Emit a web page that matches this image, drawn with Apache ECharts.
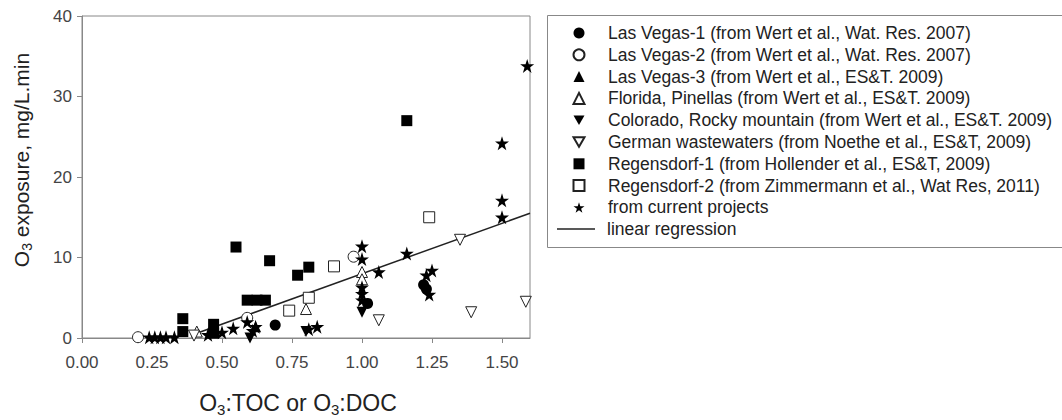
<!DOCTYPE html>
<html>
<head>
<meta charset="utf-8">
<script src="https://cdn.jsdelivr.net/npm/echarts@6/dist/echarts.min.js"></script>
<style>html,body{margin:0;padding:0;background:#fff}#c{width:1062px;height:420px}</style>
</head>
<body>
<div id="c"></div>
<script>
// ---- data ----
const xTicks = [0, 0.25, 0.5, 0.75, 1.0, 1.25, 1.5];
const yTicks = [0, 10, 20, 30, 40];

const lasVegas1 = [[0.69,1.6],[1.02,4.3],[1.22,6.6],[1.23,6.1]];
const lasVegas2 = [[0.20,0.1],[0.97,10.1],[0.59,2.5]];
const lasVegas3 = [[0.62,1.4]];
const florida = [[0.80,3.6],[1.00,8.2],[1.00,7.3],[0.41,0.8]];
const colorado = [[0.60,0.0],[0.80,0.8],[1.00,3.2]];
const german = [[0.40,0.3],[1.06,2.2],[1.35,12.2],[1.39,3.2],[1.585,4.5]];
const regensdorf1 = [[0.36,2.4],[0.36,0.8],[0.47,1.7],[0.47,0.6],[0.55,11.3],[0.59,4.7],[0.625,4.7],[0.655,4.7],[0.67,9.6],[0.77,7.8],[0.81,8.8],[1.16,27.0]];
const regensdorf2 = [[0.74,3.4],[0.81,5.0],[0.90,8.9],[1.24,15.0]];
const currentProjects = [[0.24,0.1],[0.26,0.1],[0.28,0.1],[0.30,0.1],[0.33,0.1],[0.45,0.4],[0.50,0.7],[0.54,1.2],[0.59,2.0],[0.62,1.4],[0.61,0.9],[0.81,1.1],[0.84,1.4],[1.00,11.4],[1.00,9.8],[1.00,6.3],[1.00,5.5],[1.00,4.7],[1.06,8.2],[1.16,10.5],[1.23,7.8],[1.25,8.4],[1.24,5.4],[1.50,24.2],[1.50,17.1],[1.50,15.0],[1.59,33.8]];
const regression = [[0.41,0.6],[1.6,15.5]];

const names = [
  'Las Vegas-1 (from Wert et al., Wat. Res. 2007)',
  'Las Vegas-2 (from Wert et al., Wat. Res. 2007)',
  'Las Vegas-3 (from Wert et al., ES&T. 2009)',
  'Florida, Pinellas (from Wert et al., ES&T. 2009)',
  'Colorado, Rocky mountain (from Wert et al., ES&T. 2009)',
  'German wastewaters (from Noethe et al., ES&T, 2009)',
  'Regensdorf-1 (from Hollender et al., ES&T, 2009)',
  'Regensdorf-2 (from Zimmermann et al., Wat Res, 2011)',
  'from current projects',
  'linear regression'
];

// ---- styling ----
const FONT = 'Liberation Sans, Arial, sans-serif';
const STAR = 'path://M50,0 L61.2,34.5 L97.6,34.5 L68.2,55.9 L79.4,90.5 L50,69.1 L20.6,90.5 L31.8,55.9 L2.4,34.5 L38.8,34.5 Z';
const DOWN = 'path://M0,0 L10,0 L5,8.66 Z';
const filled = {color:'#000', opacity:1};
const open = {color:'#fff', borderColor:'#222', borderWidth:1, opacity:1};

function sc(name, data, symbol, size, style) {
  return {type:'scatter', name, data, symbol, symbolSize:size, itemStyle:style, z:3};
}

const legendText = {fontSize:17.5, fontFamily:FONT, color:'#222', lineHeight:20};

const chart = echarts.init(document.getElementById('c'), null, {renderer:'svg'});
chart.setOption({
  animation:false,
  backgroundColor:'#fff',
  grid:{left:82, top:16, width:448, height:322, show:true, borderColor:'#888', borderWidth:1},
  xAxis:{
    type:'value', min:0, max:1.6,
    axisLine:{show:true, onZero:false, lineStyle:{color:'#888'}},
    axisTick:{show:true, length:5, customValues:xTicks, lineStyle:{color:'#888'}},
    axisLabel:{customValues:xTicks, margin:16, fontSize:17, fontFamily:FONT, color:'#444',
      formatter:v=>v.toFixed(2)},
    splitLine:{show:false}
  },
  yAxis:{
    type:'value', min:0, max:40, interval:10,
    axisLine:{show:true, lineStyle:{color:'#888'}},
    axisTick:{show:true, length:5, lineStyle:{color:'#888'}},
    axisLabel:{margin:10, fontSize:17, fontFamily:FONT, color:'#444'},
    splitLine:{show:false}
  },
  legend:[
    {
      orient:'vertical', left:572.5, top:23, padding:0,
      data:names.slice(0,9),
      itemGap:1.8, itemWidth:11, itemHeight:11,
      textStyle:Object.assign({padding:[0,0,0,18.5]}, legendText),
      selectedMode:false
    },
    {
      orient:'vertical', left:557, top:219, padding:0,
      data:[{name:names[9], icon:'rect'}],
      itemWidth:38, itemHeight:1.5,
      textStyle:Object.assign({padding:[0,0,0,7]}, legendText),
      selectedMode:false
    }
  ],
  graphic:[
    {type:'rect', z:-1, shape:{x:547.5, y:15.5, width:600, height:232},
      style:{fill:'#fff', stroke:'#888', lineWidth:1}},
    {type:'text', x:298, y:403, style:{
      text:'{a|O}{s|3}{a|:TOC or O}{s|3}{a|:DOC}', align:'center', verticalAlign:'middle',
      rich:{a:{fontSize:23, fontFamily:FONT, fill:'#222'}, s:{fontSize:15, fontFamily:FONT, fill:'#222', padding:[13,0,0,0]}}
    }},
    {type:'text', x:21, y:160, rotation:Math.PI/2, style:{
      text:'{a|O}{s|3}{a| exposure, mg/L.min}', align:'center', verticalAlign:'middle',
      rich:{a:{fontSize:21, fontFamily:FONT, fill:'#222'}, s:{fontSize:14, fontFamily:FONT, fill:'#222', padding:[12,0,0,0]}}
    }}
  ],
  series:[
    sc(names[0], lasVegas1, 'circle', 11, filled),
    sc(names[1], lasVegas2, 'circle', 11, open),
    sc(names[2], lasVegas3, 'triangle', 11, filled),
    sc(names[3], florida, 'triangle', 11, open),
    sc(names[4], colorado, DOWN, 11, filled),
    sc(names[5], german, DOWN, 11, open),
    sc(names[6], regensdorf1, 'rect', 11, filled),
    sc(names[7], regensdorf2, 'rect', 11, open),
    sc(names[8], currentProjects, STAR, 14, filled),
    {type:'line', name:names[9], data:regression, symbol:'none', z:2,
      lineStyle:{color:'#222', width:1.5}, itemStyle:{color:'#222'}}
  ]
});
</script>
</body>
</html>
